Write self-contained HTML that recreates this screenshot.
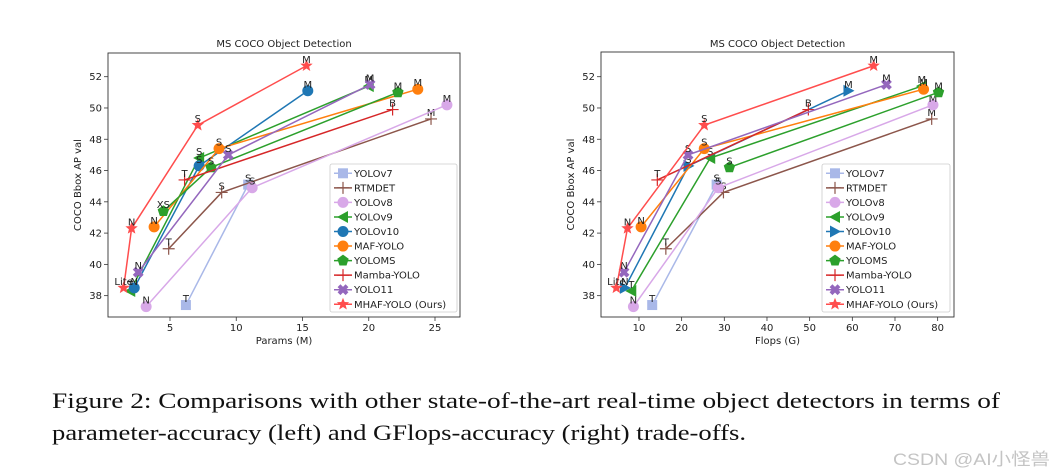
<!DOCTYPE html>
<html><head><meta charset="utf-8"><style>
html,body{margin:0;padding:0;background:#fff;}
svg{display:block;font-family:"DejaVu Sans","Liberation Sans",sans-serif;}
</style></head><body>
<svg id="fig" width="1054" height="475" viewBox="0 0 1054 475" xmlns="http://www.w3.org/2000/svg">
<text x="52" y="408" font-family="Liberation Serif, serif" font-size="22" textLength="948" lengthAdjust="spacingAndGlyphs" fill="#111">Figure 2: Comparisons with other state-of-the-art real-time object detectors in terms of</text>
<text x="52" y="440" font-family="Liberation Serif, serif" font-size="22" textLength="694" lengthAdjust="spacingAndGlyphs" fill="#111">parameter-accuracy (left) and GFlops-accuracy (right) trade-offs.</text>
<text x="893" y="465" font-family="Liberation Sans, Noto Sans CJK SC, sans-serif" font-size="17" textLength="157" lengthAdjust="spacingAndGlyphs" fill="#c4c4c4">CSDN @AI小怪兽</text>
</svg>
<script>
// ---- data ----
const seriesNames = ["YOLOv7","RTMDET","YOLOv8","YOLOv9","YOLOv10","MAF-YOLO","YOLOMS","Mamba-YOLO","YOLO11","MHAF-YOLO (Ours)"];
const seriesColors = ["#a9b8e8","#8c564b","#d8a8e8","#2ca02c","#1f77b4","#ff7f0e","#2ca02c","#d62728","#9467bd","#ff4d4d"];
const seriesLabels = [["T","S"],["T","S","M"],["N","S","M"],["T","S","M"],["N","S","M"],["N","S","M"],["XS","S","M"],["T","B"],["N","S","M"],["Lite","N","S","M"]];
const apValues = [[37.4,45.1],[41.0,44.6,49.3],[37.3,44.9,50.2],[38.3,46.8,51.4],[38.5,46.3,51.1],[42.4,47.4,51.2],[43.4,46.2,51.0],[45.4,49.9],[39.5,47.0,51.5],[38.5,42.3,48.9,52.7]];
const paramsValues = [[6.2,10.9],[4.9,8.9,24.7],[3.2,11.2,25.9],[2.0,7.2,20.0],[2.3,7.2,15.4],[3.8,8.7,23.7],[4.5,8.1,22.2],[6.1,21.8],[2.6,9.4,20.1],[1.5,2.1,7.1,15.3]];
const flopsValues = [[13.1,28.2],[16.3,29.8,78.6],[8.7,28.6,78.9],[8.2,26.7,76.3],[6.7,21.6,59.1],[10.5,25.3,76.7],[null,31.2,80.2],[14.3,49.7],[6.5,21.5,68.0],[4.7,7.3,25.3,65.0]];
const yTicks = [38,40,42,44,46,48,50,52];
const xTicksParams = [5,10,15,20,25];
const xTicksFlops = [10,20,30,40,50,60,70,80];
const leftMarkers = ["square","plus","circle","tleft","octagon","circle","pentagon","thinplus","x","star"];
const rightMarkers = ["square","plus","circle","tleft","tright","circle","pentagon","thinplus","x","star"];

const NS="http://www.w3.org/2000/svg";
const svg=document.getElementById('fig');
function el(tag,attrs,parent){const e=document.createElementNS(NS,tag);for(const k in attrs)e.setAttribute(k,attrs[k]);(parent||svg).appendChild(e);return e;}

function marker(g,type,x,y,c){
  let e;const r=5.5;
  if(type==="square")e=el('rect',{x:x-5,y:y-5,width:10,height:10,fill:c},g);
  else if(type==="circle"||type==="octagon")e=el('circle',{cx:x,cy:y,r:r,fill:c},g);
  else if(type==="tleft")e=el('polygon',{points:`${x-6},${y} ${x+5},${y-6} ${x+5},${y+6}`,fill:c},g);
  else if(type==="tright")e=el('polygon',{points:`${x+6},${y} ${x-5},${y-6} ${x-5},${y+6}`,fill:c},g);
  else if(type==="pentagon"){let p=[];for(let i=0;i<5;i++){const a=-Math.PI/2+i*2*Math.PI/5;p.push((x+6*Math.cos(a))+","+(y+6*Math.sin(a)));}e=el('polygon',{points:p.join(' '),fill:c},g);}
  else if(type==="plus"||type==="thinplus")e=el('path',{d:`M${x-6},${y}H${x+6}M${x},${y-6}V${y+6}`,stroke:c,'stroke-width':1.2,fill:'none'},g);
  else if(type==="x")e=el('path',{d:`M${x-4},${y-4}L${x+4},${y+4}M${x-4},${y+4}L${x+4},${y-4}`,stroke:c,'stroke-width':4,fill:'none'},g);
  else if(type==="star"){let p=[];for(let i=0;i<10;i++){const a=-Math.PI/2+i*Math.PI/5;const rr=i%2?2.8:6.5;p.push((x+rr*Math.cos(a))+","+(y+rr*Math.sin(a)));}e=el('polygon',{points:p.join(' '),fill:c},g);}
  
  
  return e;
}

function drawChart(cfg){
  const {id,left,right,top,bottom,x0px,xUnit,xTicks,xVals,markers,xTitle,legendX,legendW}=cfg;
  const yScale=v=>76.7+(52-v)*15.64;
  const xScale=v=>x0px+v*xUnit;
  const g=el('g',{});
  
  
  const t=el('text',{x:(left+right)/2,y:47,'text-anchor':'middle','font-size':10,fill:'#222'},g);
  t.textContent="MS COCO Object Detection";
  
  
  yTicks.forEach(v=>{const y=yScale(v);
    el('line',{x1:left-4,x2:left,y1:y,y2:y,stroke:'#333','stroke-width':0.8},g);
    const tt=el('text',{x:left-6,y:y+3.5,'text-anchor':'end','font-size':10,fill:'#222'},g);tt.textContent=v;
    
    });
  xTicks.forEach(v=>{const x=xScale(v);
    el('line',{x1:x,x2:x,y1:bottom,y2:bottom+4,stroke:'#333','stroke-width':0.8},g);
    const tt=el('text',{x:x,y:bottom+14,'text-anchor':'middle','font-size':10,fill:'#222'},g);tt.textContent=v;
    
    });
  const xt=el('text',{x:(left+right)/2,y:bottom+27,'text-anchor':'middle','font-size':10,fill:'#222'},g);xt.textContent=xTitle;
  
  
  const yt=el('text',{x:0,y:0,'text-anchor':'middle','font-size':10,fill:'#222',transform:`translate(${left-27},${(top+bottom)/2}) rotate(-90)`},g);yt.textContent="COCO Bbox AP val";
  
  
  seriesNames.forEach((name,i)=>{
    const sg=el('g',{},g);
    
    
    const pts=[];
    xVals[i].forEach((xv,j)=>{if(xv!==null)pts.push([xScale(xv),yScale(apValues[i][j]),seriesLabels[i][j]]);});
    const ln=el('polyline',{points:pts.map(p=>p[0]+","+p[1]).join(' '),fill:'none',stroke:seriesColors[i],'stroke-width':1.5},sg);
    
    
    pts.forEach(p=>{marker(sg,markers[i],p[0],p[1],seriesColors[i]);
      const lt=el('text',{x:p[0],y:p[1]-3,'text-anchor':'middle','font-size':10,fill:'#222'},sg);lt.textContent=p[2];
      
      });
  });
  el('rect',{x:left,y:top,width:right-left,height:bottom-top,fill:'none',stroke:'#333','stroke-width':0.9},g);
  const lg=el('g',{},g);
  
  
  el('rect',{x:legendX,y:164,width:legendW,height:148,rx:2,fill:'#fff','fill-opacity':0.85,stroke:'#ccc','stroke-width':0.8},lg);
  seriesNames.forEach((name,i)=>{const y=173.3+i*14.55;
    el('line',{x1:legendX+4,x2:legendX+22,y1:y,y2:y,stroke:seriesColors[i],'stroke-width':1.5},lg);
    marker(lg,markers[i],legendX+13,y,seriesColors[i]);
    const tx=el('text',{x:legendX+24,y:y+3.5,'font-size':10,fill:'#222'},lg);tx.textContent=name;
    
    });
}
drawChart({id:'params-chart',left:108,right:460,top:53,bottom:317,x0px:103.75,xUnit:13.25,xTicks:xTicksParams,xVals:paramsValues,markers:leftMarkers,xTitle:"Params (M)",legendX:330,legendW:127});
drawChart({id:'flops-chart',left:601,right:954,top:52,bottom:317,x0px:596.3,xUnit:4.267,xTicks:xTicksFlops,xVals:flopsValues,markers:rightMarkers,xTitle:"Flops (G)",legendX:822,legendW:128});
</script>
</body></html>
